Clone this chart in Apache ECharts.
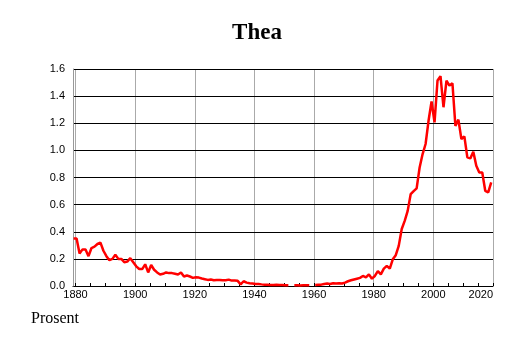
<!DOCTYPE html>
<html>
<head>
<meta charset="utf-8">
<script src="https://cdn.jsdelivr.net/npm/echarts@6/dist/echarts.min.js"></script>
<style>
  html, body { margin: 0; padding: 0; background: #fff; }
  #chart { width: 514px; height: 343px; }
</style>
</head>
<body>
<div id="chart"></div>
<script>
// andel (prosent) per år, 1880 og framover. null = ingen tall
const firstYear = 1880
const share = [
  0.35, 0.35, 0.24, 0.27, 0.27, 0.22, 0.28, 0.29, 0.31, 0.32,      // 1880-
  0.26, 0.22, 0.19, 0.20, 0.23, 0.20, 0.20, 0.175, 0.18, 0.205,    // 1890-
  0.175, 0.145, 0.125, 0.125, 0.16, 0.10, 0.155, 0.12, 0.10, 0.085, // 1900-
  0.09, 0.10, 0.095, 0.095, 0.09, 0.085, 0.10, 0.07, 0.077, 0.07,  // 1910-
  0.06, 0.065, 0.062, 0.055, 0.05, 0.045, 0.048, 0.043, 0.045, 0.045, // 1920-
  0.043, 0.043, 0.047, 0.04, 0.04, 0.038, 0.012, 0.035, 0.025, 0.02, // 1930-
  0.018, 0.015, 0.015, 0.012, 0.01, 0.01, 0.008, 0.008, 0.01, 0.008, // 1940-
  0.008, 0.006, 0.006, null, 0.005, 0.005, 0.004, 0.005, 0.005, 0.005, // 1950-
  null, 0.008, 0.01, 0.01, 0.015, 0.018, 0.015, 0.02, 0.018, 0.02, // 1960-
  0.018, 0.025, 0.035, 0.042, 0.048, 0.054, 0.06, 0.074, 0.064, 0.086, // 1970-
  0.054, 0.074, 0.11, 0.086, 0.128, 0.148, 0.128, 0.197, 0.227, 0.296, // 1980-
  0.42, 0.48, 0.554, 0.677, 0.70, 0.72, 0.874, 0.973, 1.047, 1.22, // 1990-
  1.36, 1.207, 1.515, 1.547, 1.318, 1.515, 1.478, 1.495, 1.18, 1.227, // 2000-
  1.084, 1.103, 0.948, 0.941, 0.99, 0.887, 0.837, 0.837, 0.702, 0.69, // 2010-
  0.764                                                             // 2020
]
const yTicks = [0, 0.2, 0.4, 0.6, 0.8, 1.0, 1.2, 1.4, 1.6]

const lineData = share.map((v, i) => [firstYear + i, v === null ? '-' : v])

const chart = echarts.init(document.getElementById('chart'), null, { renderer: 'canvas' })

const option = {
  backgroundColor: '#fff',
  animation: false,
  title: [
    {
      text: 'Thea',
      left: 'center',
      top: 22,
      padding: 0,
      textStyle: { fontFamily: 'Liberation Serif', fontWeight: 'bold', fontSize: 23, color: '#000' }
    },
    {
      text: 'Prosent',
      left: 31,
      top: 311,
      padding: 0,
      textStyle: { fontFamily: 'Liberation Serif', fontWeight: 'normal', fontSize: 16, color: '#000' }
    }
  ],
  grid: [
    // data + y-akse
    { left: 73, top: 69, width: 420, height: 217, containLabel: false },
    // årstall-rutenett
    { left: 75.5, top: 69, width: 417.5, height: 217, containLabel: false }
  ],
  xAxis: [
    {
      type: 'value',
      gridIndex: 0,
      min: 1879.8,
      max: 2020.6,
      axisLine: { show: true, lineStyle: { color: '#000', width: 1 } },
      axisTick: { show: false },
      axisLabel: { show: false },
      splitLine: { show: false }
    },
    {
      type: 'value',
      gridIndex: 1,
      min: 1880,
      max: 2020,
      interval: 20,
      axisLine: { show: false },
      axisTick: { show: true, inside: true, length: 3, lineStyle: { color: '#000' } },
      minorTick: { show: true, splitNumber: 4, length: 3, lineStyle: { color: '#000' } },
      axisLabel: {
        margin: 3,
        fontFamily: 'Liberation Sans',
        fontSize: 11,
        color: '#000',
        alignMaxLabel: 'right',
        formatter: v => String(v)
      },
      splitLine: { show: true, lineStyle: { color: '#aaa', width: 1 } }
    }
  ],
  yAxis: [
    {
      type: 'value',
      gridIndex: 0,
      min: yTicks[0],
      max: yTicks[yTicks.length - 1],
      interval: 0.2,
      axisLine: { show: true, lineStyle: { color: '#999', width: 1 } },
      axisTick: { show: false },
      axisLabel: {
        margin: 8,
        fontFamily: 'Liberation Sans',
        fontSize: 11,
        color: '#000',
        formatter: v => v.toFixed(1)
      },
      splitLine: { show: true, lineStyle: { color: '#000', width: 1 } },
      z: 3
    },
    { type: 'value', gridIndex: 1, min: 0, max: 1.6, show: false }
  ],
  series: [
    {
      type: 'line',
      xAxisIndex: 0,
      yAxisIndex: 0,
      data: lineData,
      showSymbol: false,
      symbol: 'none',
      connectNulls: false,
      lineStyle: { color: '#ff0000', width: 2.5 },
      z: 5
    }
  ]
}

chart.setOption(option)
</script>
</body>
</html>
